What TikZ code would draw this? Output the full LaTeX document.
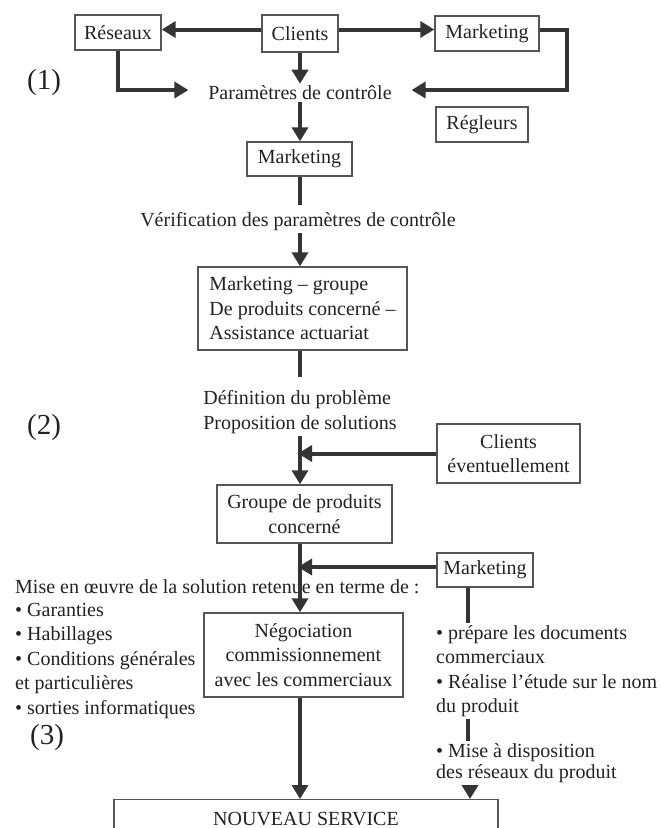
\documentclass[tikz,border=0pt]{standalone}
\usepackage{fontspec}
\setmainfont{Liberation Serif}
\usetikzlibrary{arrows.meta,calc}
\definecolor{ink}{HTML}{333338}
\definecolor{boxc}{HTML}{555555}
\definecolor{txt}{HTML}{222222}
\begin{document}
\begin{tikzpicture}[x=1pt,y=-1pt,
  every node/.style={font=\fontsize{20}{24.5}\selectfont, text=txt},
  box/.style={draw=boxc, line width=1.4pt, inner sep=0pt, align=center},
  lbl/.style={inner sep=2pt},
  arr/.style={draw=ink, line width=4pt, -{Triangle[length=14pt,width=16pt]}},
  ln/.style={draw=ink, line width=4pt},
  num/.style={font=\fontsize{29}{30}\selectfont, inner sep=0pt}]

\useasboundingbox (0,0) rectangle (661,828);
\clip (0,0) rectangle (661,828);

\coordinate (X) at (300,0);
\coordinate (R) at (468,0);
\coordinate (R2) at (470,0);

% section (1)
\node[box, minimum width=86pt, minimum height=35pt] (res) at (118,32.5) {Réseaux};
\node[box, minimum width=76pt, minimum height=37pt] (cli) at (300,33.5) {Clients};
\node[box, minimum width=104pt, minimum height=35pt] (mk1) at (487,33.5) {Marketing};
\node[lbl, outer xsep=18pt] (param) at (300,93) {Paramètres de contrôle};
\node[box, minimum width=92pt, minimum height=35pt] (regl) at (482,124.5) {Régleurs};
\node[box, minimum width=105pt, minimum height=34pt] (mk2) at (299.5,159) {Marketing};
\node[lbl] (verif) at (298,222) {Vérification des paramètres de contrôle};
\node[box, minimum width=209pt, minimum height=83pt, align=left] (b3) at (302.5,308.5)
  {Marketing – groupe\\De produits concerné –\\Assistance actuariat};

% section (2)
\node[lbl, align=left] (def) at (300,412) {Définition du problème\\Proposition de solutions};
\node[box, minimum width=143pt, minimum height=59pt] (cliev) at (508.5,453.5) {Clients\\éventuellement};
\node[box, minimum width=175pt, minimum height=58pt] (grp) at (304.5,514) {Groupe de produits\\concerné};

% section (3)
\node[lbl, anchor=west] (mise) at (13,587) {Mise en œuvre de la solution retenue en terme de :};
\node[lbl, anchor=north west, align=left] (bul) at (13,601)
  {• Garanties\\• Habillages\\• Conditions générales\\et particulières\\• sorties informatiques};
\node[box, minimum width=199pt, minimum height=84pt] (neg) at (303.5,655)
  {Négociation\\commissionnement\\avec les commerciaux};
\node[box, minimum width=96pt, minimum height=34pt] (mk3) at (485,570) {Marketing};
\node[lbl, anchor=north west, align=left] (r1) at (434,623)
  {• prépare les documents\\commerciaux\\• Réalise l’étude sur le nom\\du produit};
\node[lbl, anchor=north west, align=left, font=\fontsize{20}{21}\selectfont] (r2) at (434,741)
  {• Mise à disposition\\des réseaux du produit};
\node[box, minimum width=384pt, minimum height=38pt, anchor=north] (nv) at (306,799) {NOUVEAU SERVICE};

% phase numbers
\node[num] (n1) at (44,83) {(1)};
\node[num] (n2) at (44,428) {(2)};
\node[num] (n3) at (47,738) {(3)};

% connectors
\coordinate (c1) at ([yshift=4pt]cli.west);
\coordinate (c2) at ([yshift=4pt]cli.east);
\coordinate (m1) at ([yshift=4pt]mk1.east);
\coordinate (pw) at ([yshift=3pt]param.west);
\coordinate (pe) at ([yshift=3pt]param.east);
\draw[arr] (c1) -- (c1 -| res.east);
\draw[arr] (c2) -- (c2 -| mk1.west);
\draw[arr] (X |- cli.south) -- (X |- param.north);
\draw[arr] (res.south) |- (pw);
\draw[arr] (m1) -- ++(27,0) |- (pe);
\draw[arr] (X |- param.south) -- (X |- mk2.north);
\draw[ln, shorten >=6pt] (X |- mk2.south) -- (X |- verif.north);
\draw[arr] (X |- verif.south) -- (X |- b3.north);
\draw[ln, shorten >=11pt] (X |- b3.south) -- (X |- def.north);
\draw[arr] (X |- def.south) -- (X |- grp.north);
\draw[arr, shorten >=-2pt] (cliev.west) -- (X |- cliev.west);
\draw[arr] (X |- grp.south) -- (X |- neg.north);
\draw[arr, shorten >=-2pt] ([yshift=3pt]mk3.west) -- ([yshift=3pt]X |- mk3.west);
\draw[arr] (X |- neg.south) -- (X |- nv.north);
\draw[ln] (R |- mk3.south) -- (R |- r1.north);
\draw[ln] (R |- r1.south) -- (R |- r2.north);
\draw[arr] (R2 |- r2.south) -- (R2 |- nv.north);
\end{tikzpicture}
\end{document}
